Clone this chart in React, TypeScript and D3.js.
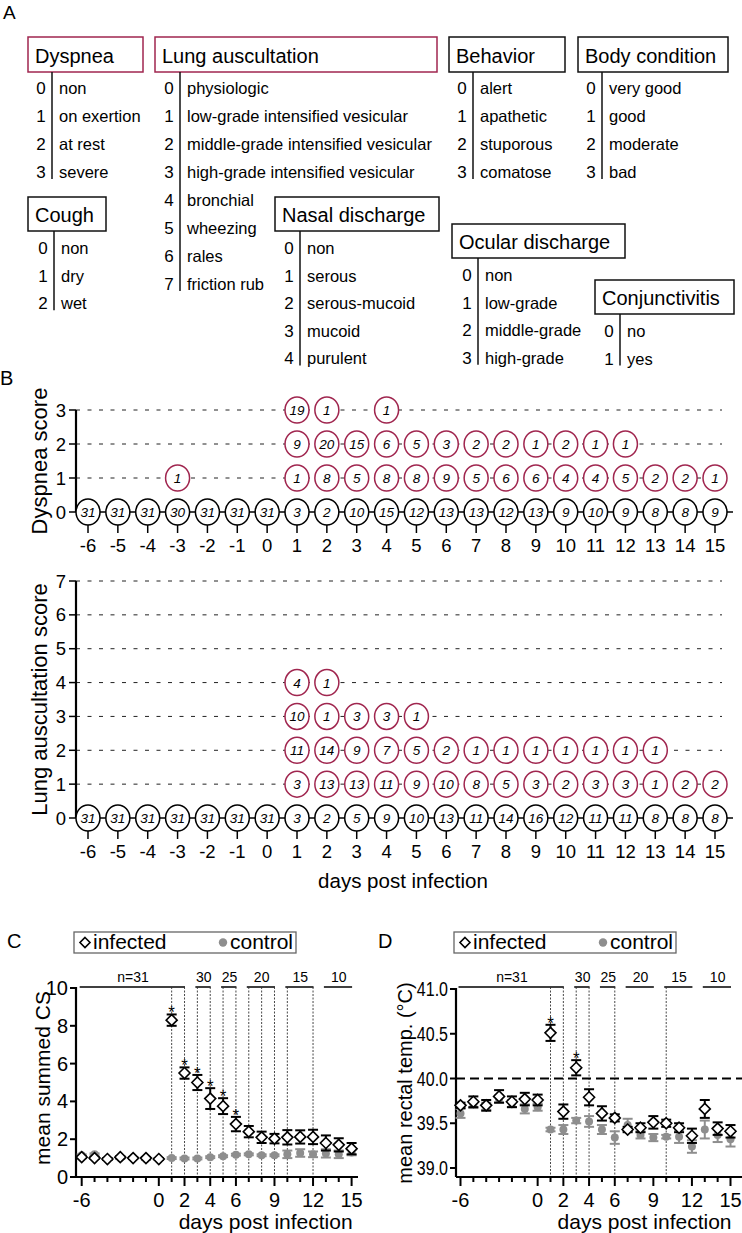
import React from 'react';
import * as d3 from 'd3';

const FONT = "'Liberation Sans', Arial, Helvetica, sans-serif";
const CRIMSON = '#a0264f';
const GREY = '#8e8e8e';

// panel A - scoring scheme
const dyspneaItems = ['non', 'on exertion', 'at rest', 'severe'];
const lungItems = [
  'physiologic',
  'low-grade intensified vesicular',
  'middle-grade intensified vesicular',
  'high-grade intensified vesicular',
  'bronchial',
  'wheezing',
  'rales',
  'friction rub',
];
const behaviorItems = ['alert', 'apathetic', 'stuporous', 'comatose'];
const bodyItems = ['very good', 'good', 'moderate', 'bad'];
const coughItems = ['non', 'dry', 'wet'];
const nasalItems = ['non', 'serous', 'serous-mucoid', 'mucoid', 'purulent'];
const ocularItems = ['non', 'low-grade', 'middle-grade', 'high-grade'];
const conjItems = ['no', 'yes'];

// panel B - animals per score, by day
const days = [-6, -5, -4, -3, -2, -1, 0, 1, 2, 3, 4, 5, 6, 7, 8, 9, 10, 11, 12, 13, 14, 15];
const _ = null;
const dyspnea0 = [31, 31, 31, 30, 31, 31, 31, 3, 2, 10, 15, 12, 13, 13, 12, 13, 9, 10, 9, 8, 8, 9];
const dyspnea1 = [_, _, _, 1, _, _, _, 1, 8, 5, 8, 8, 9, 5, 6, 6, 4, 4, 5, 2, 2, 1];
const dyspnea2 = [_, _, _, _, _, _, _, 9, 20, 15, 6, 5, 3, 2, 2, 1, 2, 1, 1, _, _, _];
const dyspnea3 = [_, _, _, _, _, _, _, 19, 1, _, 1, _, _, _, _, _, _, _, _, _, _, _];

const lung0 = [31, 31, 31, 31, 31, 31, 31, 3, 2, 5, 9, 10, 13, 11, 14, 16, 12, 11, 11, 8, 8, 8];
const lung1 = [_, _, _, _, _, _, _, 3, 13, 13, 11, 9, 10, 8, 5, 3, 2, 3, 3, 1, 2, 2];
const lung2 = [_, _, _, _, _, _, _, 11, 14, 9, 7, 5, 2, 1, 1, 1, 1, 1, 1, 1, _, _];
const lung3 = [_, _, _, _, _, _, _, 10, 1, 3, 3, 1, _, _, _, _, _, _, _, _, _, _];
const lung4 = [_, _, _, _, _, _, _, 4, 1, _, _, _, _, _, _, _, _, _, _, _, _, _];

// panel C - mean summed clinical score (mean, SEM)
const csInfMean = [1.05, 1.0, 0.95, 1.05, 1.0, 1.0, 0.95, 8.3, 5.5, 5.0, 4.15, 3.75, 2.8, 2.4, 2.1, 2.03, 2.1, 2.12, 2.12, 1.8, 1.7, 1.5];
const csInfErr = [0.05, 0.05, 0.05, 0.05, 0.05, 0.05, 0.05, 0.3, 0.3, 0.4, 0.55, 0.42, 0.38, 0.3, 0.3, 0.25, 0.38, 0.35, 0.38, 0.4, 0.35, 0.3];
const csCtlMean = [1.15, 1.2, 0.95, 1.0, 1.0, 0.95, 0.95, 1.0, 0.98, 0.98, 1.05, 1.1, 1.18, 1.2, 1.15, 1.15, 1.2, 1.27, 1.2, 1.25, 1.2, 1.3];
const csCtlErr = [0.05, 0.05, 0.05, 0.05, 0.05, 0.05, 0.05, 0.05, 0.05, 0.05, 0.05, 0.05, 0.05, 0.05, 0.05, 0.05, 0.2, 0.2, 0.15, 0.22, 0.2, 0.15];

// panel D - mean rectal temperature (mean, SEM)
const tInfMean = [39.7, 39.74, 39.7, 39.8, 39.74, 39.77, 39.76, 40.51, 39.63, 40.12, 39.79, 39.61, 39.56, 39.43, 39.45, 39.51, 39.5, 39.45, 39.36, 39.66, 39.44, 39.41];
const tInfErr = [0.03, 0.06, 0.06, 0.07, 0.06, 0.07, 0.06, 0.09, 0.08, 0.085, 0.09, 0.08, 0.04, 0.03, 0.05, 0.07, 0.04, 0.05, 0.08, 0.1, 0.07, 0.07];
const tCtlMean = [39.61, 39.71, 39.69, 39.77, 39.72, 39.66, 39.68, 39.43, 39.43, 39.53, 39.52, 39.43, 39.34, 39.48, 39.37, 39.34, 39.35, 39.35, 39.24, 39.43, 39.37, 39.32];
const tCtlErr = [0.05, 0.04, 0.04, 0.04, 0.04, 0.05, 0.04, 0.02, 0.05, 0.03, 0.06, 0.05, 0.07, 0.07, 0.04, 0.04, 0.02, 0.07, 0.07, 0.1, 0.08, 0.08];

const cohortLabels = ['n=31', '30', '25', '20', '15', '10'];
const cohortStart = [-6, 3, 5, 7, 10, 13];
const cohortEnd = [2, 4, 6, 9, 12, 15];
const csDividers = [1, 2, 3, 4, 5, 6, 7, 8, 9, 10, 12];
const tempDividers = [1, 2, 3, 4, 6, 10];
const csStarDays = [1, 2, 3, 4, 5, 6];
const tempStarDays = [1, 3];
const xMajorTicks = [-6, 0, 2, 4, 6, 9, 12, 15];
const csTicks = [0, 2, 4, 6, 8, 10];
const tempTicks = [39, 39.5, 40, 40.5, 41];

function PanelA() {
  const blocks = [
    { title: 'Dyspnea', items: dyspneaItems, x: 28, y: 37, w: 115, h: 35, lineX: 52, row0: 88, step: 28, red: true },
    { title: 'Lung auscultation', items: lungItems, x: 155, y: 37, w: 282, h: 35, lineX: 180, row0: 88, step: 28, red: true },
    { title: 'Behavior', items: behaviorItems, x: 449, y: 37, w: 116, h: 35, lineX: 473, row0: 88, step: 28 },
    { title: 'Body condition', items: bodyItems, x: 578, y: 37, w: 150, h: 35, lineX: 602, row0: 88, step: 28 },
    { title: 'Cough', items: coughItems, x: 28, y: 197, w: 78, h: 34, lineX: 54, row0: 248, step: 27.6 },
    { title: 'Nasal discharge', items: nasalItems, x: 275, y: 197, w: 164, h: 34, lineX: 300, row0: 248, step: 27.6 },
    { title: 'Ocular discharge', items: ocularItems, x: 452, y: 224, w: 173, h: 34, lineX: 478, row0: 275, step: 27.6 },
    { title: 'Conjunctivitis', items: conjItems, x: 595, y: 280, w: 139, h: 34, lineX: 620, row0: 331, step: 27.6 },
  ];
  return (
    <g>
      <text x={3} y={19} fontSize={19}>A</text>
      {blocks.map((b) => {
        const last = b.row0 + (b.items.length - 1) * b.step;
        return (
          <g key={b.title}>
            <rect x={b.x} y={b.y} width={b.w} height={b.h} fill="#fff"
              stroke={b.red ? CRIMSON : '#111'} strokeWidth={1.5} />
            <text x={b.x + 7} y={b.y + b.h - 9} fontSize={20}>{b.title}</text>
            <line x1={b.lineX} x2={b.lineX} y1={b.y + b.h} y2={last + 7} stroke="#111" strokeWidth={1.5} />
            {b.items.map((it, i) => (
              <g key={it}>
                <text x={b.lineX - 11} y={b.row0 + i * b.step + 6} fontSize={17} textAnchor="middle">{i}</text>
                <text x={b.lineX + 7} y={b.row0 + i * b.step + 6} fontSize={16.5}>{it}</text>
              </g>
            ))}
          </g>
        );
      })}
    </g>
  );
}

function ScoreChart({ rows, yMax, top, bottom, title, xTitle }) {
  const x = d3.scaleLinear().domain([-6, 15]).range([88, 715]);
  const y = d3.scaleLinear().domain([0, yMax]).range([bottom, top]);
  const levels = d3.range(0, yMax + 1);
  const axisX = 76;
  return (
    <g>
      {levels.filter((l) => l > 0).map((l) => (
        <line key={'g' + l} x1={axisX} x2={722} y1={y(l)} y2={y(l)} stroke="#222" strokeWidth={1} strokeDasharray="4 7.5" />
      ))}
      <line x1={axisX} x2={733} y1={y(0)} y2={y(0)} stroke="#000" strokeWidth={1.5} />
      <line x1={axisX} x2={axisX} y1={y(yMax)} y2={y(0)} stroke="#000" strokeWidth={2.2} />
      {levels.map((l) => (
        <g key={'t' + l}>
          <line x1={axisX - 7} x2={axisX} y1={y(l)} y2={y(l)} stroke="#000" strokeWidth={1.5} />
          <text x={axisX - 10} y={y(l) + 6.5} fontSize={18.5} textAnchor="end">{l}</text>
        </g>
      ))}
      {days.map((d) => (
        <g key={'d' + d}>
          <line x1={x(d)} x2={x(d)} y1={y(0)} y2={y(0) + 21} stroke="#000" strokeWidth={1.5} />
          <text x={x(d)} y={y(0) + 40} fontSize={18.5} textAnchor="middle">{d}</text>
        </g>
      ))}
      {rows.map((r, score) =>
        r.map((n, i) =>
          n == null ? null : (
            <g key={score + '-' + i}>
              <ellipse cx={x(days[i])} cy={y(score)} rx={12} ry={13} fill="#fff"
                stroke={score === 0 ? '#000' : CRIMSON} strokeWidth={1.5} />
              <text x={x(days[i])} y={y(score) + 5} fontSize={13.5} fontStyle="italic" textAnchor="middle">{n}</text>
            </g>
          )
        )
      )}
      <text transform={`translate(47,${(top + bottom) / 2}) rotate(-90)`} fontSize={22} textAnchor="middle">{title}</text>
      {xTitle && <text x={403} y={bottom + 70} fontSize={20.5} textAnchor="middle">{xTitle}</text>}
    </g>
  );
}

function Diamond({ cx, cy, r }) {
  return <path d={`M${cx},${cy - r}L${cx + r},${cy}L${cx},${cy + r}L${cx - r},${cy}Z`} fill="#fff" stroke="#000" strokeWidth={1.6} />;
}

function ErrBar({ x, y0, y1, color }) {
  return (
    <g stroke={color} strokeWidth={2}>
      <line x1={x} x2={x} y1={y0} y2={y1} />
      <line x1={x - 5} x2={x + 5} y1={y0} y2={y0} />
      <line x1={x - 5} x2={x + 5} y1={y1} y2={y1} />
    </g>
  );
}

function TimeCourse(p) {
  const x = d3.scaleLinear().domain([-6, 15]).range(p.xRange);
  const y = d3.scaleLinear().domain(p.yDomain).range(p.yRange);
  const base = 1177;
  const topY = 987;
  return (
    <g>
      <text x={p.letterX} y={948} fontSize={20}>{p.letter}</text>
      {/* legend */}
      <rect x={p.legendX} y={932} width={222} height={21} fill="#fff" stroke="#666" strokeWidth={1.3} />
      <Diamond cx={p.legendX + 11} cy={942.5} r={5} />
      <text x={p.legendX + 19} y={948.5} fontSize={21}>infected</text>
      <circle cx={p.legendX + 149} cy={942.5} r={4.2} fill={GREY} />
      <text x={p.legendX + 156} y={948.5} fontSize={21}>control</text>

      {/* cohort size bars */}
      {cohortLabels.map((lab, i) => (
        <g key={lab}>
          <line x1={x(cohortStart[i]) - 2} x2={x(cohortEnd[i]) + 0.5} y1={topY} y2={topY} stroke="#000" strokeWidth={1.5} />
          <text x={(x(cohortStart[i]) + x(cohortEnd[i])) / 2} y={topY - 5} fontSize={14} textAnchor="middle">{lab}</text>
        </g>
      ))}
      {p.dividers.map((d) => (
        <line key={'v' + d} x1={x(d)} x2={x(d)} y1={topY} y2={base} stroke="#333" strokeWidth={0.9} strokeDasharray="2 1.5" />
      ))}
      {p.refLine != null && (
        <line x1={p.axisX} x2={742} y1={y(p.refLine)} y2={y(p.refLine)} stroke="#000" strokeWidth={2} strokeDasharray="9 5" />
      )}

      {/* axes */}
      <line x1={p.axisX} x2={p.axisX} y1={y(p.yDomain[1]) - 1} y2={base} stroke="#000" strokeWidth={2.2} />
      <line x1={p.axisX} x2={p.axisEnd} y1={base} y2={base} stroke="#000" strokeWidth={2.2} />
      {p.yTicks.map((t) => (
        <g key={'y' + t}>
          <line x1={p.axisX - 6} x2={p.axisX} y1={y(t)} y2={y(t)} stroke="#000" strokeWidth={2} />
          <text transform={`translate(${p.axisX - 8},${y(t) + 7}) scale(${p.yTickScale},1)`}
            fontSize={20} textAnchor="end">{p.fmt(t)}</text>
        </g>
      ))}
      {days.map((d) => {
        const major = xMajorTicks.includes(d);
        return <line key={'x' + d} x1={x(d)} x2={x(d)} y1={base} y2={base + (major ? 9 : 5)} stroke="#000" strokeWidth={2} />;
      })}
      {xMajorTicks.map((d) => (
        <text key={'xl' + d} x={x(d)} y={1207} fontSize={20} textAnchor="middle">{d}</text>
      ))}
      <text x={p.xRange[1] + 1} y={1229} fontSize={21} textAnchor="end">days post infection</text>
      <text transform={`translate(${p.yTitleX},${p.yTitleY}) rotate(-90)`} fontSize={p.yTitleSize} textAnchor="middle">{p.yTitle}</text>

      {/* control */}
      {days.map((d, i) => (
        <g key={'c' + d}>
          <ErrBar x={x(d)} y0={y(p.ctl[i] + p.ctlErr[i])} y1={y(p.ctl[i] - p.ctlErr[i])} color={GREY} />
          <circle cx={x(d)} cy={y(p.ctl[i])} r={4} fill={GREY} />
        </g>
      ))}
      {/* infected */}
      {days.map((d, i) => (
        <g key={'i' + d}>
          <ErrBar x={x(d)} y0={y(p.inf[i] + p.infErr[i])} y1={y(p.inf[i] - p.infErr[i])} color="#000" />
          <Diamond cx={x(d)} cy={y(p.inf[i])} r={5.5} />
          {p.stars.includes(d) && (
            <text x={x(d)} y={y(p.inf[i] + p.infErr[i]) + 4} fontSize={17} textAnchor="middle">*</text>
          )}
        </g>
      ))}
    </g>
  );
}

export default function App() {
  return (
    <svg width={742} height={1233} viewBox="0 0 742 1233" fontFamily={FONT}
      style={{ position: 'absolute', left: 0, top: 0, background: '#fff' }}>
      <rect width={742} height={1233} fill="#fff" />
      <PanelA />
      <text x={0} y={385} fontSize={20}>B</text>
      <ScoreChart rows={[dyspnea0, dyspnea1, dyspnea2, dyspnea3]} yMax={3} top={410} bottom={512} title="Dyspnea score" />
      <ScoreChart rows={[lung0, lung1, lung2, lung3, lung4]} yMax={7} top={581} bottom={818}
        title="Lung auscultation score" xTitle="days post infection" />
      <TimeCourse letter="C" letterX={7} legendX={74} xRange={[81.7, 351.6]} axisX={76} axisEnd={358}
        yDomain={[0, 10]} yRange={[1177, 988]} yTicks={csTicks} fmt={(t) => String(t)} yTickScale={1}
        inf={csInfMean} infErr={csInfErr} ctl={csCtlMean} ctlErr={csCtlErr}
        stars={csStarDays} dividers={csDividers} refLine={null}
        yTitle="mean summed CS" yTitleX={50} yTitleY={1078} yTitleSize={21} />
      <TimeCourse letter="D" letterX={378} legendX={454} xRange={[460.5, 730.5]} axisX={456} axisEnd={742}
        yDomain={[39, 41]} yRange={[1168, 989]} yTicks={tempTicks} fmt={(t) => t.toFixed(1)} yTickScale={0.8}
        inf={tInfMean} infErr={tInfErr} ctl={tCtlMean} ctlErr={tCtlErr}
        stars={tempStarDays} dividers={tempDividers} refLine={40}
        yTitle="mean rectal temp. (°C)" yTitleX={412} yTitleY={1083} yTitleSize={20} />
    </svg>
  );
}
